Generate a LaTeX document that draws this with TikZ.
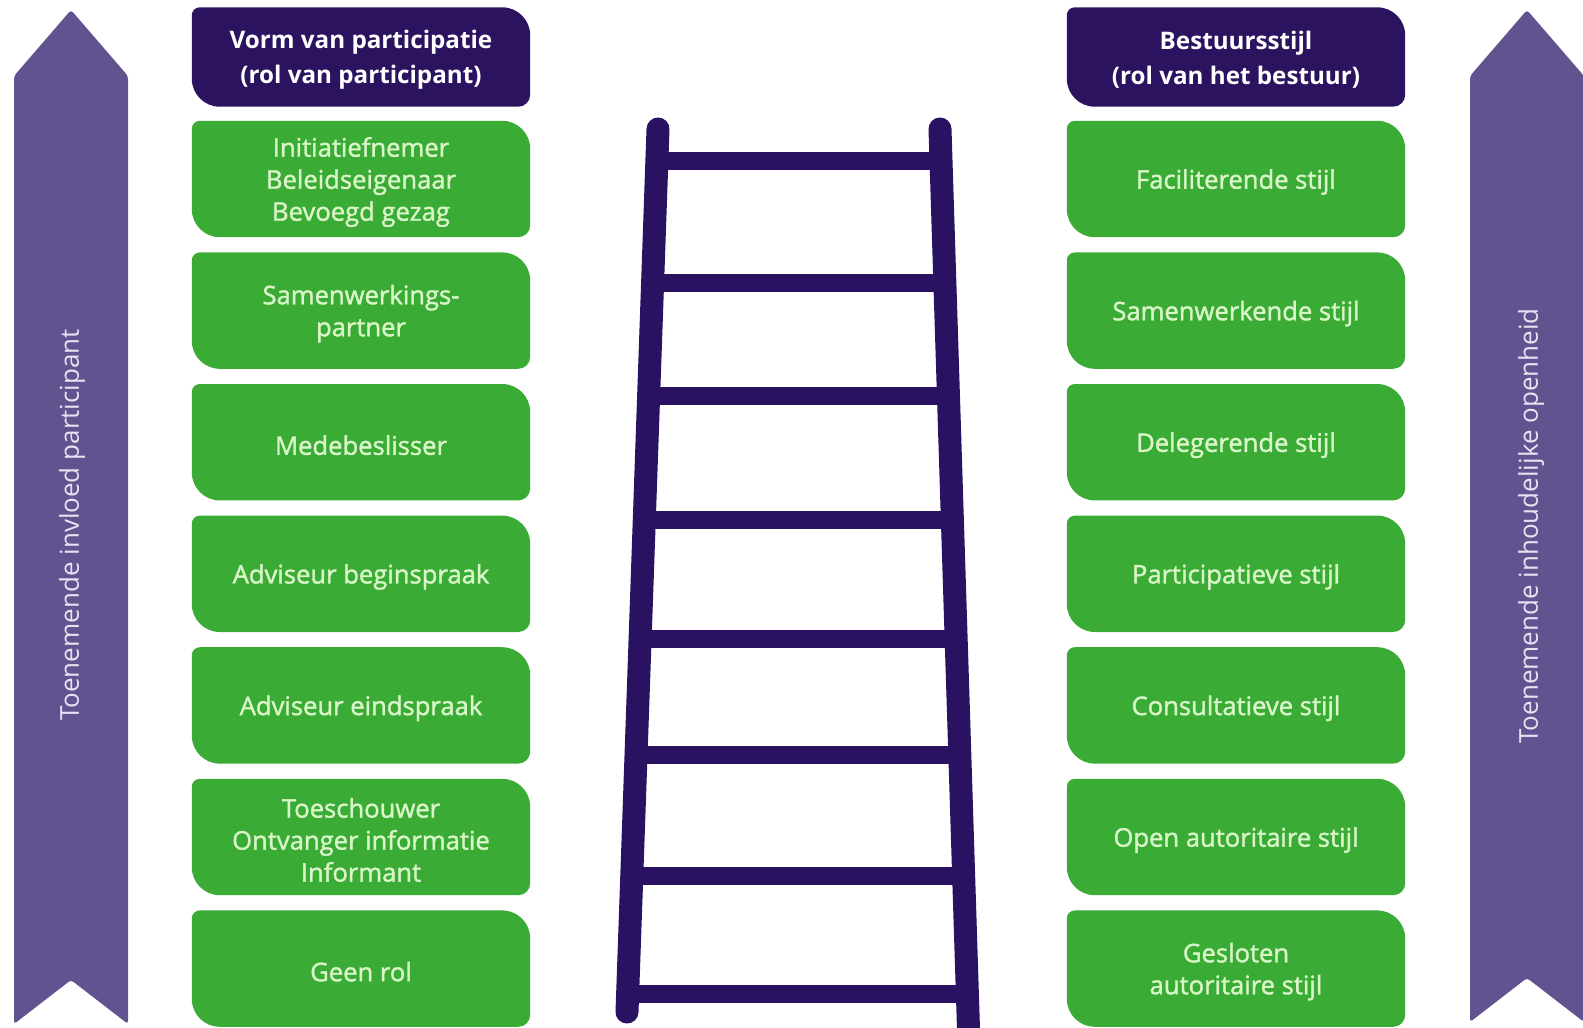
\documentclass[tikz,border=0pt]{standalone}
\usepackage{fontspec}
\setmainfont{Open Sans}
\newfontfamily\medfont[FakeBold=1.5]{Open Sans}
\usetikzlibrary{backgrounds}
\definecolor{leafgreen}{HTML}{3AAB34}
\definecolor{headpurple}{HTML}{2C1360}
\definecolor{ladderpurple}{HTML}{2A1262}
\definecolor{arrowpurple}{HTML}{62528F}
\definecolor{greentext}{HTML}{D8F6C8}
\definecolor{arrowtext}{HTML}{E6E2F2}
\newcommand\leafbox[6]{%
  \node[#4] (#1) at (#2,#3) {};
  \node[#4, minimum height=0pt, yshift=-3pt] (#1-text) at (#1.center) {#6};
  \begin{scope}[on background layer]
    \fill[#5] ([yshift=-8pt]#1.north west) arc[start angle=180,end angle=90,radius=8pt]
      -- ([xshift=-28pt]#1.north east) arc[start angle=90,end angle=0,radius=28pt]
      -- ([yshift=12pt]#1.south east) arc[start angle=0,end angle=-90,radius=12pt]
      -- ([xshift=28pt]#1.south west) arc[start angle=-90,end angle=-180,radius=28pt]
      -- cycle;
  \end{scope}}
\tikzset{
  boxbase/.style={minimum width=338pt, inner sep=0pt, align=center},
  headbox/.style={boxbase, minimum height=99pt, text=white,
    font=\fontsize{24.2}{35}\selectfont\bfseries},
  greenbox/.style={boxbase, minimum height=116pt, text=greentext,
    font=\fontsize{25.6}{32}\medfont},
  sidearrow/.style={fill=arrowpurple, rounded corners=3pt},
  arrowlabel/.style={text=arrowtext, rotate=90, font=\fontsize{26}{30}\selectfont},
  rail/.style={draw=ladderpurple, line width=23pt, line cap=round},
  rung/.style={draw=ladderpurple, line width=18pt, line cap=butt}
}
\begin{document}
\begin{tikzpicture}[x=1pt,y=1pt]
\useasboundingbox (0,0) rectangle (1583,-1028);
\clip (0,0) rectangle (1583,-1028);

% side arrows
\fill[sidearrow] (14,-76) -- (71,-10) -- (128,-76) -- (128,-1024) -- (71,-980) -- (14,-1024) -- cycle;
\node[arrowlabel] (leftlabel) at (72,-525) {Toenemende invloed participant};
\fill[sidearrow] (1470,-76) -- (1527,-10) -- (1584,-76) -- (1584,-1022) -- (1527,-978) -- (1470,-1022) -- cycle;
\node[arrowlabel] (rightlabel) at (1531,-526) {Toenemende inhoudelijke openheid};

% left column
\leafbox{lh}{361}{-57}{headbox}{headpurple}{Vorm van participatie\\(rol van participant)}
\leafbox{l1}{361}{-179}{greenbox}{leafgreen}{Initiatiefnemer\\Beleidseigenaar\\Bevoegd gezag}
\leafbox{l2}{361}{-310.6}{greenbox}{leafgreen}{Samenwerkings-\\partner}
\leafbox{l3}{361}{-442.2}{greenbox}{leafgreen}{Medebeslisser}
\leafbox{l4}{361}{-573.8}{greenbox}{leafgreen}{Adviseur beginspraak}
\leafbox{l5}{361}{-705.4}{greenbox}{leafgreen}{Adviseur eindspraak}
\leafbox{l6}{361}{-837}{greenbox}{leafgreen}{Toeschouwer\\Ontvanger informatie\\Informant}
\leafbox{l7}{361}{-968.6}{greenbox}{leafgreen}{Geen rol}

% right column
\leafbox{rh}{1236}{-57}{headbox}{headpurple}{Bestuursstijl\\(rol van het bestuur)}
\leafbox{r1}{1236}{-179}{greenbox}{leafgreen}{Faciliterende stijl}
\leafbox{r2}{1236}{-310.6}{greenbox}{leafgreen}{Samenwerkende stijl}
\leafbox{r3}{1236}{-442.2}{greenbox}{leafgreen}{Delegerende stijl}
\leafbox{r4}{1236}{-573.8}{greenbox}{leafgreen}{Participatieve stijl}
\leafbox{r5}{1236}{-705.4}{greenbox}{leafgreen}{Consultatieve stijl}
\leafbox{r6}{1236}{-837}{greenbox}{leafgreen}{Open autoritaire stijl}
\leafbox{r7}{1236}{-968.6}{greenbox}{leafgreen}{Gesloten\\autoritaire stijl}

% ladder
\draw[rung] (656.9,-161) -- (941.0,-161);
\draw[rung] (652.6,-283) -- (944.7,-283);
\draw[rung] (648.6,-396) -- (948.2,-396);
\draw[rung] (644.3,-520) -- (952.0,-520);
\draw[rung] (640.1,-639) -- (955.7,-639);
\draw[rung] (636.0,-755) -- (959.2,-755);
\draw[rung] (631.8,-876) -- (963.0,-876);
\draw[rung] (627.6,-994) -- (966.6,-994);
\draw[rail] (658,-129) -- (627,-1012);
\draw[rail] (940,-129) -- (969,-1045);
\end{tikzpicture}
\end{document}
